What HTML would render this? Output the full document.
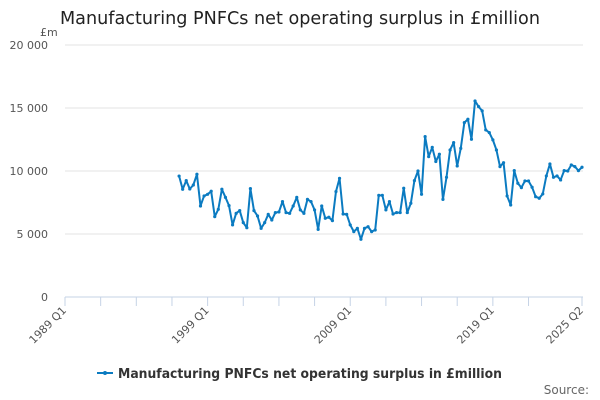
<!DOCTYPE html>
<html><head><meta charset="utf-8"><style>
body{margin:0;background:#fff;}
svg{display:block;font-family:"DejaVu Sans","Liberation Sans",sans-serif;}
</style></head><body>
<svg id="chart" width="600" height="400">
<text x="60" y="24" font-size="17.5" fill="#222" textLength="480" lengthAdjust="spacingAndGlyphs">Manufacturing PNFCs net operating surplus in £million</text>
<text x="40" y="36" font-size="11" fill="#555">£m</text>
<g id="grid"></g><g id="xaxis"></g><g id="series"></g>
<g>
<line x1="97" y1="373" x2="113" y2="373" stroke="#0b7bc1" stroke-width="2"/>
<circle cx="105" cy="373" r="2" fill="#0b7bc1"/>
<text x="118" y="378" font-size="13" font-weight="bold" fill="#333" textLength="384" lengthAdjust="spacingAndGlyphs">Manufacturing PNFCs net operating surplus in £million</text>
</g>
<text x="589" y="394" font-size="12" fill="#666" text-anchor="end">Source:</text>
</svg>
<script>
const startQuarter = 32; // 1997 Q1 (quarters since 1989 Q1)
const values = [9600,8550,9240,8575,8890,9740,7225,8020,8150,8390,6380,6960,8550,7910,7250,5720,6640,6860,5900,5500,8600,6860,6430,5450,5900,6560,6110,6700,6750,7570,6700,6640,7225,7910,6910,6640,7750,7570,6910,5370,7225,6250,6330,6060,8370,9420,6590,6560,5720,5190,5450,4580,5450,5580,
5190,5320,8070,8070,6910,7570,6590,6700,6700,8630,6700,7440,9240,10000,8150,12730,11140,11880,10750,11330,7750,9500,11670,12250,10400,11800,13840,14110,12520,15560,15110,14770,13260,13050,12470,11670,10350,10660,8020,7300,10030,9030,8680,9210,9210,8710,7960,7840,8180,9610,10560,9500,9610,9290,10030,10000,10480,10350,10030,10300];
const yTicks = [0,5000,10000,15000,20000];
const yTickLabels = ["0","5 000","10 000","15 000","20 000"];
const xLabelQuarters = [0,40,80,120,145];
const xLabels = ["1989 Q1","1999 Q1","2009 Q1","2019 Q1","2025 Q2"];
const NS="http://www.w3.org/2000/svg";
const X0=65,X1=582,Y0=297,Y1=45,QMAX=145,YMAX=20000;
const xs=q=>X0+q*(X1-X0)/QMAX;
const ys=v=>Y0-v*(Y0-Y1)/YMAX;
function mk(t,a,p){const e=document.createElementNS(NS,t);for(const k in a)e.setAttribute(k,a[k]);p.appendChild(e);return e;}
const grid=document.getElementById('grid');
yTicks.forEach((v,i)=>{
  if(v>0){const l=mk('line',{x1:X0,x2:583,y1:ys(v),y2:ys(v),stroke:'#e3e3e3'},grid);
  
  }
  const t=mk('text',{x:48,y:ys(v)+4,'font-size':11,fill:'#555','text-anchor':'end'},grid);
  t.textContent=yTickLabels[i];
  
  
});
const xa=document.getElementById('xaxis');
const ax=mk('line',{x1:X0,x2:583,y1:Y0,y2:Y0,stroke:'#c6d3e6'},xa);


const tq=[0,10,20,30,40,50,60,70,80,90,100,110,120,130,145];
tq.forEach(q=>{const l=mk('line',{x1:xs(q),x2:xs(q),y1:Y0,y2:Y0+9,stroke:'#c6d3e6'},xa);
  
  });
xLabelQuarters.forEach((q,i)=>{
  const x=xs(q)+2,y=Y0+14;
  const t=mk('text',{x:x,y:y,'font-size':11,fill:'#555','text-anchor':'end',transform:`rotate(-45 ${x} ${y})`},xa);
  t.textContent=xLabels[i];
  
  
});
const s=document.getElementById('series');
const pts=values.map((v,i)=>[xs(startQuarter+i),ys(v)]);
const pl=mk('polyline',{points:pts.map(p=>p.join(',')).join(' '),fill:'none',stroke:'#0b7bc1','stroke-width':2,'stroke-linejoin':'round'},s);


pts.forEach(p=>{const c=mk('circle',{cx:p[0],cy:p[1],r:1.6,fill:'#0b7bc1'},s);
  
  });
</script>
</body></html>
